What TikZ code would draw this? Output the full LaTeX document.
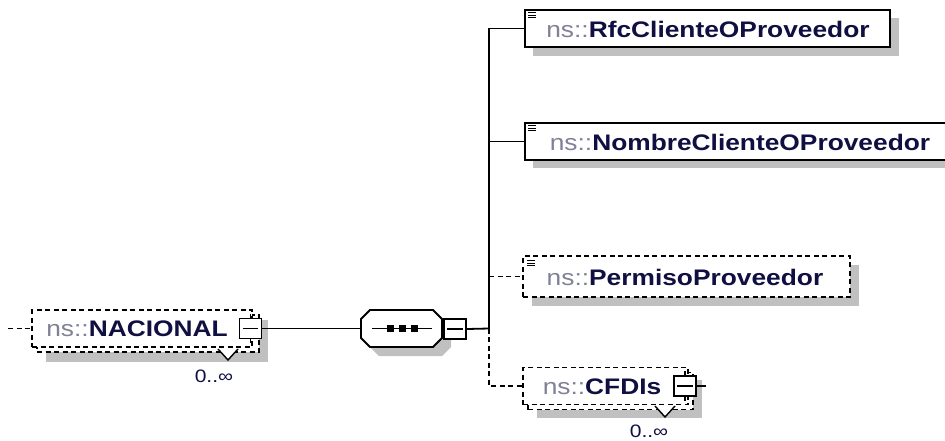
\documentclass[tikz,border=0pt]{standalone}
\usepackage{fontspec}
\setmainfont{Liberation Sans}
\newfontfamily\dfont[FakeStretch=1.17]{Liberation Sans}
\definecolor{shadowc}{RGB}{192,192,192}
\definecolor{nsgray}{RGB}{128,128,150}
\definecolor{namec}{RGB}{15,15,65}
\newcommand{\elname}[1]{{\color{nsgray}ns::}{\bfseries\color{namec}#1}}
\tikzset{
  elem/.style={draw=black, line width=2pt, fill=white, inner sep=0pt, minimum height=37},
  optelem/.style={elem, line width=1.8pt, dash pattern=on 5pt off 3.5pt},
  nametext/.style={inner sep=0pt, font=\dfont\fontsize{22.5}{26}\selectfont},
  cardtext/.style={inner sep=0pt, font=\dfont\fontsize{18}{20}\selectfont, text=namec},
  btn/.style={draw=black, line width=1.5pt, fill=white, inner sep=0pt, minimum width=22, minimum height=20},
  conn/.style={draw=black, line width=1.8pt},
  optconn/.style={conn, dash pattern=on 5pt off 3.5pt},
  icon/.style={line width=0.9pt},
  thinl/.style={line width=1.4pt},
}
\begin{document}
\begin{tikzpicture}[x=1pt,y=-1pt]
\useasboundingbox (0,0) rectangle (945,440);

% ---------- NACIONAL ----------
\fill[shadowc] (46,320) rectangle (268,362);
\node[optelem, minimum width=222] (nacB) at (148,333.5) {};
\node[optelem, minimum width=220] (nac) at (142,328.5) {};
\node[nametext] (nacT) at (137,329) {\elname{NACIONAL}};
\node[btn] (nacBtn) at (250.5,328.5) {};
\draw[thinl] ([xshift=4]nacBtn.west) -- ([xshift=-4]nacBtn.east);
\draw[thinl] (nacBtn.north) -- ++(0,-4);
\draw[thinl] (nacBtn.south) -- ++(0,4);
\draw[thinl, fill=white] (218,349) -- (228,360) -- (238,349);
\node[cardtext] (nacCard) at (214,376) {0..∞};
\coordinate (inL) at (8,328.5);
\draw[optconn] (inL) -- (nac.west);

% ---------- sequence ----------
\fill[shadowc] (379,319) -- (442,319) -- (451,328) -- (451,347) -- (442,356) -- (379,356) -- (370,347) -- (370,328) -- cycle;
\node[inner sep=0pt, minimum width=81, minimum height=37] (seq) at (401.5,328.5) {};
\draw[line width=1.8pt, fill=white] (370,310) -- (433,310) -- (442,319) -- (442,338) -- (433,347) -- (370,347) -- (361,338) -- (361,319) -- cycle;
\draw[thinl] ([xshift=11]seq.west) -- ([xshift=-10]seq.east);
\fill (386.5,325) rectangle (393.5,332);
\fill (398.5,325) rectangle (405.5,332);
\fill (410.5,325) rectangle (417.5,332);
\node[btn] (seqBtn) at (455,329) {};
\draw[thinl] ([xshift=4]seqBtn.west) -- ([xshift=-4]seqBtn.east);
\draw[conn] (nacBtn.east) -- (seq.west);

% ---------- children ----------
% Rfc
\fill[shadowc] (533,18) rectangle (899,56);
\node[elem, minimum width=365] (rfc) at (707.5,28.5) {};
\node[nametext] (rfcT) at (708,29.5) {\elname{RfcClienteOProveedor}};
\draw[icon] (528,12.5) -- (536,12.5) (528,15) -- (536,15) (528,17.5) -- (536,17.5);

% Nombre
\fill[shadowc] (533,131) rectangle (980,168);
\node[elem, minimum width=445] (nom) at (747.5,141.5) {};
\node[nametext] (nomT) at (740,142.5) {\elname{NombreClienteOProveedor}};
\draw[icon] (528,125.5) -- (536,125.5) (528,128) -- (536,128) (528,130.5) -- (536,130.5);

% Permiso
\fill[shadowc] (532,265) rectangle (859,306);
\node[optelem, minimum width=327, minimum height=41] (perm) at (686.5,276.5) {};
\node[nametext] (permT) at (685,277.5) {\elname{PermisoProveedor}};
\draw[icon] (527,260.5) -- (535,260.5) (527,263) -- (535,263) (527,265.5) -- (535,265.5);

% CFDIs
\fill[shadowc] (537,380) rectangle (702,418);
\node[optelem, minimum width=165] (cfdB) at (610.5,391) {};
\node[optelem, minimum width=165] (cfd) at (605.5,386) {};
\node[nametext] (cfdT) at (602,387) {\elname{CFDIs}};
\node[btn] (cfdBtn) at (685,386) {};
\draw[thinl] ([xshift=4]cfdBtn.west) -- ([xshift=-4]cfdBtn.east);
\draw[thinl] (cfdBtn.north) -- ++(0,-4);
\draw[thinl] (cfdBtn.south) -- ++(0,4);
\coordinate (cfdOut) at (706,386);
\draw[thinl] (cfdBtn.east) -- (cfdOut);
\draw[thinl, fill=white] (655,406) -- (665,417) -- (675,406);
\node[cardtext] (cfdCard) at (649,431) {0..∞};

% ---------- connectors ----------
\coordinate (j) at (489,328.5);
\draw[conn] (seqBtn.east) -- (j);
\draw[conn] (j) |- (rfc.west);
\draw[conn] (j) |- (nom.west);
\coordinate (pj) at (j |- perm.west);
\draw[optconn] (pj) -- (perm.west);
\draw[optconn] (j) |- (cfd.west);
\end{tikzpicture}
\end{document}
